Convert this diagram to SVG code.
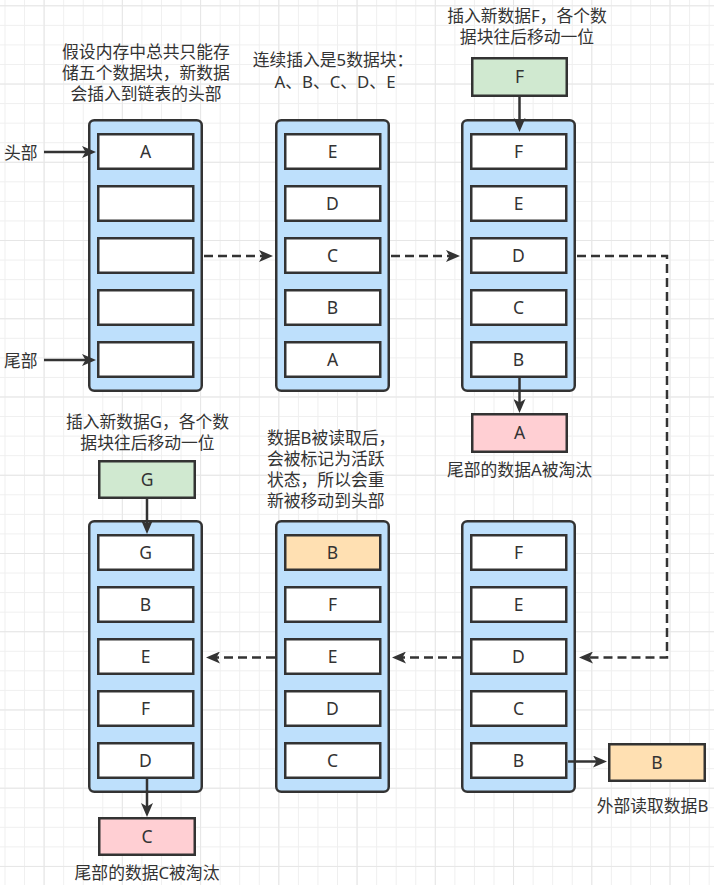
<svg xmlns="http://www.w3.org/2000/svg" width="714" height="885" viewBox="0 0 714 885">
<defs>
<style>
.cont{fill:#bee0fc;stroke:#333;stroke-width:2.5}
.cell{fill:#fff;stroke:#333;stroke-width:2.5}
.green{fill:#d0e9d0;stroke:#333;stroke-width:2.5}
.pink{fill:#ffcfd3;stroke:#333;stroke-width:2.5}
.orange{fill:#ffe0b2;stroke:#333;stroke-width:2.5}
.t{font-family:"Noto Sans","Noto Sans CJK SC",sans-serif;font-size:16.8px;fill:#333}
.c{text-anchor:middle}
.lbl{font-family:"Noto Sans","Noto Sans CJK SC",sans-serif;font-size:17.5px;fill:#333;text-anchor:middle}
.solid{fill:none;stroke:#333;stroke-width:2.5;marker-end:url(#ah)}
.dash{fill:none;stroke:#333;stroke-width:2.5;stroke-dasharray:9 5;marker-end:url(#ah)}
</style>
<pattern id="gmin" patternUnits="userSpaceOnUse" x="4.5" y="5.3" width="19.56" height="19.56">
<path d="M0.5,0 V19.56 M0,0.5 H19.56" stroke="#efefef" stroke-width="1" fill="none"/>
</pattern>
<pattern id="gmaj" patternUnits="userSpaceOnUse" x="43.6" y="5.3" width="78.24" height="78.24">
<path d="M0.5,0 V78.24 M0,0.5 H78.24" stroke="#e6e6e6" stroke-width="1" fill="none"/>
</pattern>
<marker id="ah" markerUnits="userSpaceOnUse" markerWidth="14" markerHeight="12" refX="4" refY="6" orient="auto">
<path d="M0,0 L14,6 L0,12 L3.5,6 Z" fill="#333"/>
</marker>
</defs>
<rect width="714" height="885" fill="#fff"/>
<rect width="714" height="885" fill="url(#gmin)"/>
<rect width="714" height="885" fill="url(#gmaj)"/>

<g id="note1">
<text class="t c" x="146" y="57.5">假设内存中总共只能存</text>
<text class="t c" x="146" y="78.5">储五个数据块，新数据</text>
<text class="t c" x="146" y="99.5">会插入到链表的头部</text>
</g>
<g id="note2">
<text class="t c" x="333" y="66">连续插入是5数据块：</text>
<text class="t c" x="335" y="87.5">A、B、C、D、E</text>
</g>
<g id="note3">
<text class="t c" x="527" y="21.5">插入新数据F，各个数</text>
<text class="t c" x="527" y="42.5">据块往后移动一位</text>
</g>
<g id="note4"><text class="t c" x="519.5" y="475.5">尾部的数据A被淘汰</text></g>
<g id="note5">
<text class="t c" x="147.5" y="428">插入新数据G，各个数</text>
<text class="t c" x="147.5" y="449">据块往后移动一位</text>
</g>
<g id="note6">
<text class="t" x="267" y="444.3">数据B被读取后，</text>
<text class="t" x="267" y="465.1">会被标记为活跃</text>
<text class="t" x="267" y="485.9">状态，所以会重</text>
<text class="t" x="267" y="506.7">新被移动到头部</text>
</g>
<g id="note7"><text class="t c" x="652.5" y="811.5">外部读取数据B</text></g>
<g id="note8"><text class="t c" x="147" y="878.5">尾部的数据C被淘汰</text></g>
<g id="head-label"><text class="t" x="4" y="158.5">头部</text></g>
<g id="tail-label"><text class="t" x="4" y="366.5">尾部</text></g>

<g id="col1">
<rect class="cont" x="89.25" y="120.25" width="112.5" height="270.5" rx="5"/>
<rect class="cell" x="98.25" y="134.25" width="95" height="34.5"/><text class="lbl" x="145.5" y="157.5">A</text>
<rect class="cell" x="98.25" y="186.25" width="95" height="34.5"/>
<rect class="cell" x="98.25" y="238.25" width="95" height="34.5"/>
<rect class="cell" x="98.25" y="290.25" width="95" height="34.5"/>
<rect class="cell" x="98.25" y="342.25" width="95" height="34.5"/>
</g>
<g id="col2">
<rect class="cont" x="276.25" y="120.25" width="112.5" height="270.5" rx="5"/>
<rect class="cell" x="285.25" y="134.25" width="95" height="34.5"/><text class="lbl" x="332.5" y="157.5">E</text>
<rect class="cell" x="285.25" y="186.25" width="95" height="34.5"/><text class="lbl" x="332.5" y="209.5">D</text>
<rect class="cell" x="285.25" y="238.25" width="95" height="34.5"/><text class="lbl" x="332.5" y="261.5">C</text>
<rect class="cell" x="285.25" y="290.25" width="95" height="34.5"/><text class="lbl" x="332.5" y="313.5">B</text>
<rect class="cell" x="285.25" y="342.25" width="95" height="34.5"/><text class="lbl" x="332.5" y="365.5">A</text>
</g>
<g id="col3">
<rect class="cont" x="462.25" y="120.25" width="112.5" height="270.5" rx="5"/>
<rect class="cell" x="471.25" y="134.25" width="95" height="34.5"/><text class="lbl" x="518.5" y="157.5">F</text>
<rect class="cell" x="471.25" y="186.25" width="95" height="34.5"/><text class="lbl" x="518.5" y="209.5">E</text>
<rect class="cell" x="471.25" y="238.25" width="95" height="34.5"/><text class="lbl" x="518.5" y="261.5">D</text>
<rect class="cell" x="471.25" y="290.25" width="95" height="34.5"/><text class="lbl" x="518.5" y="313.5">C</text>
<rect class="cell" x="471.25" y="342.25" width="95" height="34.5"/><text class="lbl" x="518.5" y="365.5">B</text>
</g>
<g id="newF">
<rect class="green" x="472.25" y="58.25" width="94.5" height="37.5"/><text class="lbl" x="519.5" y="83">F</text>
</g>
<g id="evictA">
<rect class="pink" x="472.25" y="414.25" width="94.5" height="37.5"/><text class="lbl" x="519.5" y="439">A</text>
</g>

<g id="col4">
<rect class="cont" x="462.25" y="521.25" width="112.5" height="270.5" rx="5"/>
<rect class="cell" x="471.25" y="535.25" width="95" height="34.5"/><text class="lbl" x="518.5" y="558.5">F</text>
<rect class="cell" x="471.25" y="587.25" width="95" height="34.5"/><text class="lbl" x="518.5" y="610.5">E</text>
<rect class="cell" x="471.25" y="639.25" width="95" height="34.5"/><text class="lbl" x="518.5" y="662.5">D</text>
<rect class="cell" x="471.25" y="691.25" width="95" height="34.5"/><text class="lbl" x="518.5" y="714.5">C</text>
<rect class="cell" x="471.25" y="743.25" width="95" height="34.5"/><text class="lbl" x="518.5" y="766.5">B</text>
</g>
<g id="col5">
<rect class="cont" x="276.25" y="521.25" width="112.5" height="270.5" rx="5"/>
<rect class="orange" x="285.25" y="535.25" width="95" height="34.5"/><text class="lbl" x="332.5" y="558.5">B</text>
<rect class="cell" x="285.25" y="587.25" width="95" height="34.5"/><text class="lbl" x="332.5" y="610.5">F</text>
<rect class="cell" x="285.25" y="639.25" width="95" height="34.5"/><text class="lbl" x="332.5" y="662.5">E</text>
<rect class="cell" x="285.25" y="691.25" width="95" height="34.5"/><text class="lbl" x="332.5" y="714.5">D</text>
<rect class="cell" x="285.25" y="743.25" width="95" height="34.5"/><text class="lbl" x="332.5" y="766.5">C</text>
</g>
<g id="col6">
<rect class="cont" x="89.25" y="521.25" width="112.5" height="270.5" rx="5"/>
<rect class="cell" x="98.25" y="535.25" width="95" height="34.5"/><text class="lbl" x="145.5" y="558.5">G</text>
<rect class="cell" x="98.25" y="587.25" width="95" height="34.5"/><text class="lbl" x="145.5" y="610.5">B</text>
<rect class="cell" x="98.25" y="639.25" width="95" height="34.5"/><text class="lbl" x="145.5" y="662.5">E</text>
<rect class="cell" x="98.25" y="691.25" width="95" height="34.5"/><text class="lbl" x="145.5" y="714.5">F</text>
<rect class="cell" x="98.25" y="743.25" width="95" height="34.5"/><text class="lbl" x="145.5" y="766.5">D</text>
</g>
<g id="newG">
<rect class="green" x="99.25" y="461.25" width="95.5" height="36.5"/><text class="lbl" x="147" y="485.5">G</text>
</g>
<g id="evictC">
<rect class="pink" x="99.25" y="818.25" width="95.5" height="36.5"/><text class="lbl" x="147" y="842.5">C</text>
</g>
<g id="readB">
<rect class="orange" x="609.25" y="744.25" width="95.5" height="36.5"/><text class="lbl" x="657" y="768.5">B</text>
</g>

<g id="connectors">
<path class="dash" d="M204,256 H263"/>
<path class="dash" d="M391,256 H450"/>
<path class="dash" d="M577,256 H667 V657.5 H589"/>
<path class="dash" d="M461,657.5 H402"/>
<path class="dash" d="M275,657.5 H216"/>
<path class="solid" d="M519.5,97 V122"/>
<path class="solid" d="M519.5,378 V403"/>
<path class="solid" d="M147,499 V524"/>
<path class="solid" d="M147,779 V807"/>
<path class="solid" d="M568,761.5 H597"/>
<path class="solid" d="M44,152 H86"/>
<path class="solid" d="M44,360 H86"/>
</g>
</svg>
